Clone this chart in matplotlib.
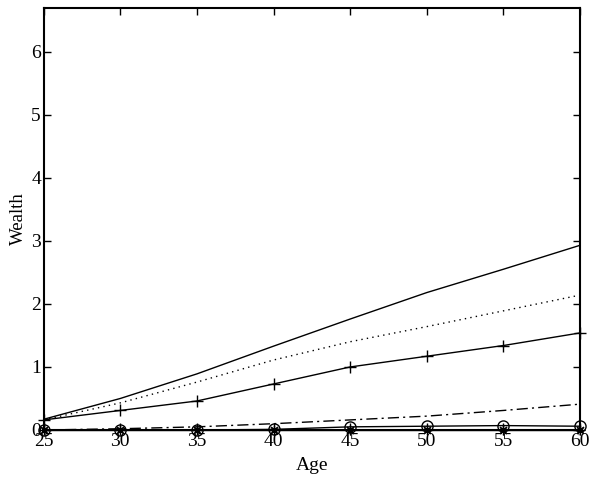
import matplotlib
matplotlib.use("Agg")
import matplotlib.pyplot as plt

age = [25, 30, 35, 40, 45, 50, 55, 60]
wealth_solid = [0.17, 0.50, 0.89, 1.33, 1.76, 2.18, 2.55, 2.93]
wealth_dotted = [0.16, 0.43, 0.76, 1.11, 1.40, 1.64, 1.89, 2.14]
wealth_plus = [0.16, 0.31, 0.46, 0.73, 1.00, 1.17, 1.34, 1.54]
wealth_dashdot = [0.00, 0.02, 0.05, 0.10, 0.16, 0.22, 0.31, 0.41]
wealth_circle = [0.00, 0.00, 0.00, 0.01, 0.05, 0.06, 0.07, 0.06]
wealth_star = [0.00, 0.00, 0.00, 0.00, 0.00, 0.00, 0.00, 0.00]
xticks = [25, 30, 35, 40, 45, 50, 55, 60]
yticks = [0, 1, 2, 3, 4, 5, 6]

plt.rcParams['font.family'] = ['Liberation Serif', 'DejaVu Serif']
plt.rcParams['mathtext.fontset'] = 'stix'

fig = plt.figure(figsize=(5.9, 4.79), dpi=100)
ax = fig.add_axes([0.074, 0.1023, 0.909, 0.8817])

lw = 1.0
ax.plot(age, wealth_solid, color='black', lw=lw, ls='-')
ax.plot(age, wealth_dotted, color='black', lw=lw, ls=(0, (1, 3)))
ax.plot(age, wealth_plus, color='black', lw=lw, ls='-', marker='+', ms=9, mew=1.0,
        clip_on=False)
ax.plot(age, wealth_dashdot, color='black', lw=lw, ls=(0, (8, 3, 1.5, 3)))
ax.plot(age, wealth_star, color='black', lw=lw, ls='-', marker=(8, 2, 0), ms=7,
        mew=0.9, clip_on=False, zorder=5)
ax.plot(age, wealth_circle, color='black', lw=lw, ls='-', marker='o', ms=8, mfc='none',
        mew=1.0, clip_on=False, zorder=5)

ax.set_xlim(25, 60)
ax.set_ylim(0, 6.7)
ax.set_xticks(xticks)
ax.set_yticks(yticks)
ax.tick_params(direction='in', top=True, right=True, length=5, width=1.0,
               labelsize=14, pad=2)
for s in ax.spines.values():
    s.set_linewidth(1.5)
ax.set_xlabel('Age', fontsize=14, labelpad=5)
ax.set_ylabel('Wealth', fontsize=13.5, labelpad=3)

fig.savefig('out.png', dpi=100)
